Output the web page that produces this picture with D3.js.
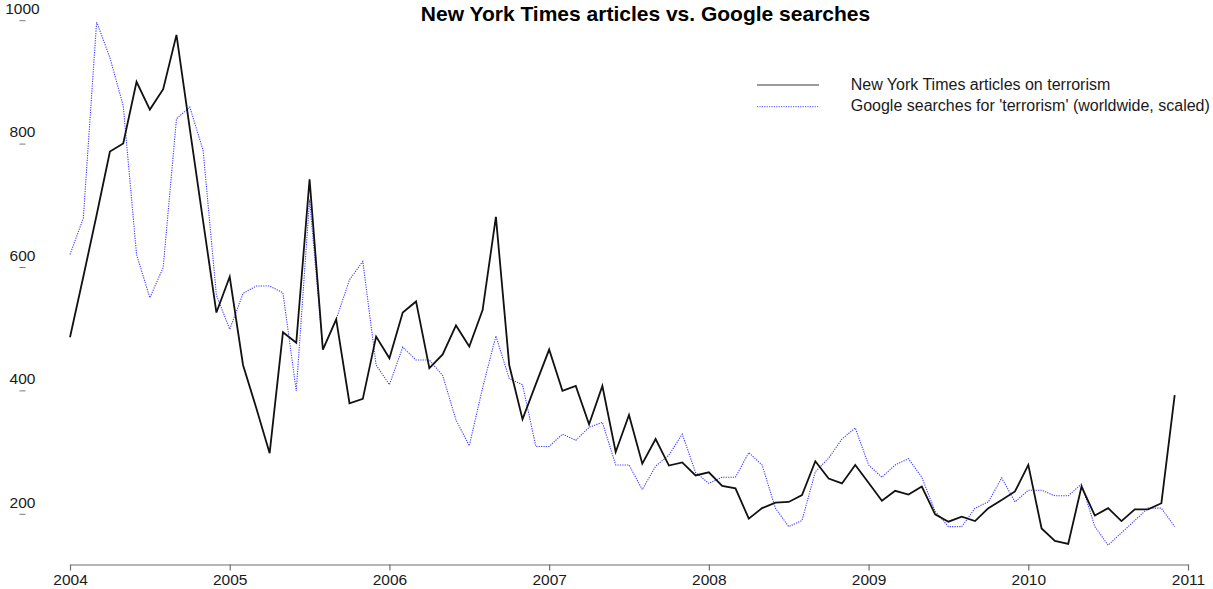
<!DOCTYPE html>
<html><head><meta charset="utf-8">
<script src="https://cdn.jsdelivr.net/npm/d3@7"></script>
<style>
html,body{margin:0;padding:0;background:#fff;}
svg{display:block;font-family:"Liberation Sans",Arial,sans-serif;}
</style></head>
<body>
<svg id="chart" width="1213" height="589"></svg>
<script>
// Monthly data, Jan 2004 - Dec 2010
const startYear = 2004;
const nytArticles = [
  487, 585, 685, 788, 801, 901, 856, 889, 977, 825, 675, 527,
  585, 442, 372, 299, 495, 478, 743, 467, 516, 380, 387, 488,
  453, 527, 545, 437, 459, 506, 472, 531, 682, 442, 354, 411,
  467, 400, 408, 346, 408, 301, 361, 282, 322, 279, 284, 263,
  268, 246, 242, 193, 210, 219, 220, 231, 286, 258, 250, 280,
  251, 222, 238, 232, 245, 200, 188, 196, 189, 210, 223, 237,
  280, 177, 157, 152, 245, 198, 210, 189, 208, 208, 218, 393
];
const googleSearches = [
  621, 680, 998, 940, 862, 621, 551, 600, 841, 860, 790, 555,
  500, 558, 570, 570, 559, 400, 710, 467, 516, 580, 610, 442,
  410, 471, 450, 450, 425, 353, 311, 405, 489, 420, 410, 310,
  310, 330, 320, 341, 349, 280, 280, 240, 278, 296, 330, 268,
  250, 260, 260, 300, 280, 210, 180, 190, 269, 291, 322, 340,
  280, 260, 280, 290, 260, 205, 180, 180, 210, 220, 259, 220,
  239, 239, 230, 230, 249, 180, 150, 170, 190, 210, 210, 180
];
const xTickYears = [2004, 2005, 2006, 2007, 2008, 2009, 2010, 2011];
const yTickValues = [200, 400, 600, 800, 1000];
const titleText = "New York Times articles vs. Google searches";
const seriesNames = ["New York Times articles on terrorism", "Google searches for 'terrorism' (worldwide, scaled)"];

const svg = d3.select("#chart");
const x = d3.scaleLinear().domain([2004, 2011]).range([70, 1188]);
const y = d3.scaleLinear().domain([200, 1000]).range([514.3, 20.7]);
const axisY = 564.5;

const t = i => startYear + i / 12;

// X axis
const xAxis = d3.axisBottom(x).tickValues(xTickYears).tickFormat(d3.format("d")).tickSize(6).tickSizeOuter(0);
const gx = svg.append("g").attr("transform", `translate(0,${axisY})`).call(xAxis);
gx.select(".domain").attr("stroke", "#6e6e6e").attr("stroke-width", 1.2);
gx.selectAll(".tick line").attr("stroke", "#6e6e6e").attr("stroke-width", 1.2);
gx.selectAll(".tick text").attr("fill", "#1a1a1a").attr("font-size", "15.5px")
  .attr("font-family", "Liberation Sans, Arial, sans-serif").attr("y", 20.8).attr("dy", null);

// Y ticks: small dashes with labels above
const gy = svg.append("g");
gy.selectAll("line").data(yTickValues).join("line")
  .attr("x1", 19.5).attr("x2", 25.5)
  .attr("y1", d => y(d)).attr("y2", d => y(d))
  .attr("stroke", "#7a7a7a").attr("stroke-width", 1);
gy.selectAll("text").data(yTickValues).join("text")
  .attr("x", 22.5).attr("y", d => y(d) - 6.8)
  .attr("text-anchor", "middle").attr("font-size", "15.5px").attr("fill", "#1a1a1a")
  .text(d => d);

// Lines
const lineGen = d3.line().x((d, i) => x(t(i))).y(d => y(d));
svg.append("path").datum(googleSearches)
  .attr("d", lineGen).attr("fill", "none")
  .attr("stroke", "#3a3aff").attr("stroke-width", 1.1)
  .attr("stroke-dasharray", "1.2,1.2");
svg.append("path").datum(nytArticles)
  .attr("d", lineGen).attr("fill", "none")
  .attr("stroke", "#111").attr("stroke-width", 1.8)
  .attr("stroke-linejoin", "miter");

// Title
svg.append("text").attr("x", 645.5).attr("y", 20.5)
  .attr("text-anchor", "middle").attr("font-size", "21px").attr("font-weight", "bold")
  .attr("fill", "#000").text(titleText);

// Legend
const legend = svg.append("g");
legend.append("line").attr("x1", 757).attr("x2", 819).attr("y1", 85).attr("y2", 85)
  .attr("stroke", "#7a7a7a").attr("stroke-width", 1.5);
legend.append("line").attr("x1", 757).attr("x2", 819).attr("y1", 106.7).attr("y2", 106.7)
  .attr("stroke", "#4a4aff").attr("stroke-width", 1).attr("stroke-dasharray", "1.2,1.2");
legend.append("text").attr("x", 850.7).attr("y", 89.8).attr("font-size", "16px").attr("fill", "#1a1a1a").text(seriesNames[0]);
legend.append("text").attr("x", 850.7).attr("y", 110.8).attr("font-size", "16px").attr("fill", "#1a1a1a").text(seriesNames[1]);
</script>
</body></html>
